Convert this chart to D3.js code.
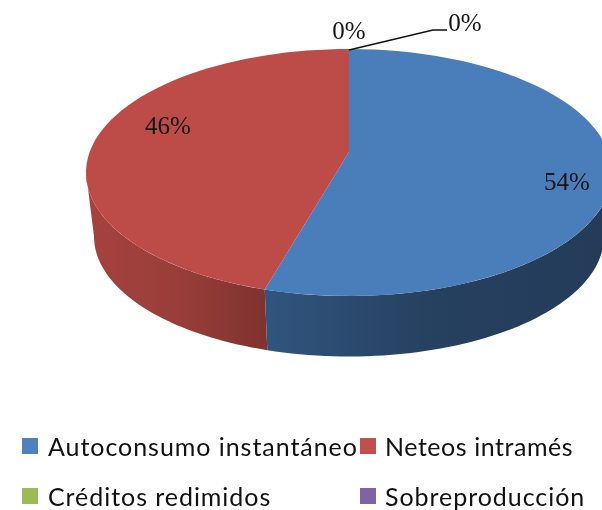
<!DOCTYPE html>
<html><head><meta charset="utf-8">
<script src="https://cdn.jsdelivr.net/npm/d3@7"></script>
<style>html,body{margin:0;padding:0;background:#fff}svg{display:block;filter:blur(.45px)}</style>
</head><body><svg id="c" width="602" height="510"></svg>
<script>
const categories = ["Autoconsumo instantáneo","Neteos intramés","Créditos redimidos","Sobreproducción"];
const values = [54.4,45.6,0,0];
const topColors = ["#4a7ebb","#bd4c49","#9bbb59","#8064a2"];
const legendColors = ["#4f81bd","#c0504d","#9bbb59","#8064a2"];
const wallStops = [["#31557f","#26405f","#243c5a"],["#a5423f","#9a3e3a","#80332f"]];

const W=602,H=510,cx=349,k=0.166;
const topFace={cy:172.5,rx:263,ry:123.5}, base={cy:236.5,rx:255,ry:120};
const project=(t,f,r=1)=>{const u=Math.sin(t)*r,v=-Math.cos(t)*r,s=1/(1-k*v),q=1-k*k;
  return [cx+f.rx*Math.sqrt(q)*u*s, f.cy-f.ry*k+f.ry*q*v*s];};

const svg=d3.select("#c");
const arcs=d3.pie().sort(null).value(d=>d)(values);
const line=d3.line();
const samples=(a,b)=>d3.range(0,61).map(i=>a+(b-a)*i/60);
const defs=svg.append("defs");
const gradX=[[264,602],[86,264]];
wallStops.forEach((st,i)=>{const g=defs.append("linearGradient").attr("id","w"+i)
  .attr("gradientUnits","userSpaceOnUse").attr("x1",gradX[i][0]).attr("x2",gradX[i][1]).attr("y1",0).attr("y2",0);
  st.forEach((c,j)=>g.append("stop").attr("offset",j/(st.length-1)).attr("stop-color",c));});

// side walls, from silhouette to silhouette
const lo=Math.PI*0.553, hi=Math.PI*1.447;
arcs.forEach((a,i)=>{const s=Math.max(a.startAngle,lo),e=Math.min(a.endAngle,hi);
  if(e<=s||a.value===0)return;
  const ts=samples(s,e);
  const pts=ts.map(t=>project(t,topFace)).concat(ts.slice().reverse().map(t=>project(t,base)));
  svg.append("path").attr("d",line(pts)+"Z").attr("fill",`url(#w${i})`);});

// top faces
const apex=project(0,topFace,0);
arcs.forEach((a,i)=>{if(a.value===0)return;
  const pts=[apex].concat(samples(a.startAngle,a.endAngle).map(t=>project(t,topFace)));
  svg.append("path").attr("d",line(pts)+"Z").attr("fill",topColors[i]);});

// leader line for the last zero slice
const p0=project(0,topFace);
svg.append("path").attr("d",line([[p0[0],p0[1]+1],[433,30],[447,30]])).attr("fill","none").attr("stroke","#111").attr("stroke-width",1.4);

// data labels
const labelSpots=[[567,181],[168,125],[349,30],[465,22]];
const fmt=d3.format(".0f");
svg.selectAll("text.lab").data(arcs).join("text").attr("class","lab")
  .attr("x",(d,i)=>labelSpots[i][0]).attr("y",(d,i)=>labelSpots[i][1])
  .attr("text-anchor","middle").attr("dominant-baseline","central")
  .attr("font-family","'Liberation Serif',serif").attr("font-size",25).attr("fill","#161616")
  .text(d=>fmt(d.value)+"%");

// legend
const colX=d3.scalePoint().domain([0,1]).range([22,360]);
const rowY=d3.scalePoint().domain([0,1]).range([446,496]);
const lg=svg.selectAll("g.l").data(categories).join("g").attr("class","l")
  .attr("transform",(d,i)=>`translate(${colX(i%2)},${rowY(Math.floor(i/2))})`);
lg.append("rect").attr("x",0).attr("y",-8).attr("width",16).attr("height",16).attr("fill",(d,i)=>legendColors[i]);
lg.append("text").attr("x",(d,i)=>i%2?25:26).attr("dominant-baseline","central")
  .attr("font-family","Lato,sans-serif").attr("font-size",25).attr("fill","#111").attr("letter-spacing",(d,i)=>i===1?.55:.95)
  .text(d=>d);
</script></body></html>
